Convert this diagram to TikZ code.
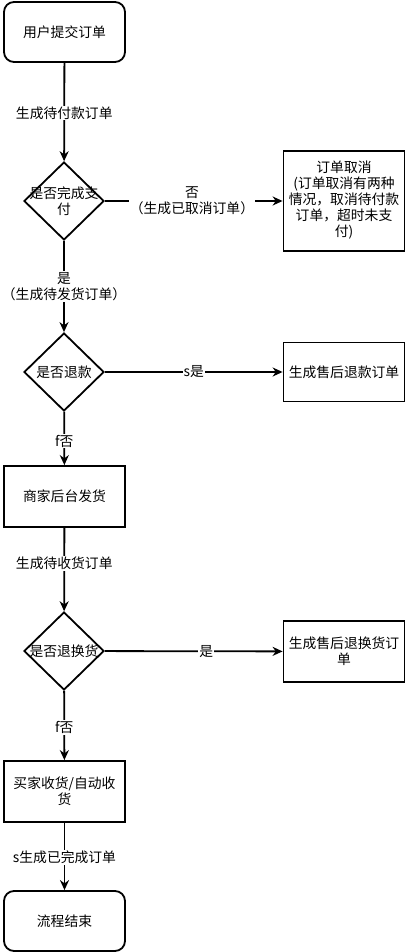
\documentclass[tikz,border=0pt]{standalone}
\usepackage{fontspec}
\setmainfont{Noto Sans CJK SC}
\usetikzlibrary{shapes.geometric,arrows.meta}
\tikzset{
  box/.style={draw, line width=1.8pt, minimum width=121pt, minimum height=60pt, align=center, inner sep=2pt},
  rbox/.style={box, rounded corners=10pt},
  dia/.style={draw, shape=diamond, line width=1.8pt, minimum width=80pt, minimum height=78pt, inner sep=0pt},
  txt/.style={align=center, inner sep=0pt},
  lbl/.style={fill=white, align=center, inner sep=1pt},
  arrow/.style={line width=1.8pt, -{Stealth[length=10pt,width=9pt]}}
}
\begin{document}
\begin{tikzpicture}[x=1pt,y=-1pt,font=\fontsize{13.8}{15.8}\selectfont]
\useasboundingbox (0,0) rectangle (405,952);
\node[rbox] (start) at (64.5,32) {用户提交订单};
\node[dia] (d1) at (64,201) {};
\node[txt] (d1t) at (64,201) {是否完成支\\付};
\node[box, minimum height=100pt] (cancel) at (344,201) {};
\node[txt] (cancelt) at (344,200) {订单取消\\(订单取消有两种\\情况，取消待付款\\订单，超时未支\\付)};
\node[dia] (d2) at (64,372) {};
\node[txt] (d2t) at (64,372) {是否退款};
\node[box, minimum height=59pt] (refund) at (344,372) {生成售后退款订单};
\node[box, minimum height=61pt] (ship) at (64.5,496.5) {商家后台发货};
\node[dia] (d3) at (64,651) {};
\node[txt] (d3t) at (64,651) {是否退换货};
\node[box, minimum height=61pt] (exch) at (344,651.5) {};
\node[txt] (excht) at (344,651.5) {生成售后退换货订\\单};
\node[box, minimum height=61pt] (recv) at (64.5,791.5) {};
\node[txt] (recvt) at (64.5,791.5) {买家收货/自动收\\货};
\node[rbox, minimum height=60pt] (end) at (64.5,921) {流程结束};

\draw[arrow] (start) -- node[lbl, pos=0.51] {生成待付款订单} (d1);
\draw[arrow] (d1) -- node[lbl, pos=0.49] {否\\（生成已取消订单）} (cancel);
\draw[arrow] (d1) -- node[lbl, pos=0.5] {是\\（生成待发货订单）} (d2);
\draw[arrow] (d2) -- node[lbl, pos=0.5] {s是} (refund);
\draw[arrow] (d2) -- node[lbl, pos=0.55] {f否} (ship);
\draw[arrow] (ship) -- node[lbl, pos=0.43] {生成待收货订单} (d3);
\draw[arrow] (d3) -- node[lbl, pos=0.57] {是} (exch);
\draw[arrow] (d3) -- node[lbl, pos=0.53] {f否} (recv);
\draw[arrow] (recv) -- node[lbl, pos=0.51] {s生成已完成订单} (end);
\end{tikzpicture}
\end{document}
